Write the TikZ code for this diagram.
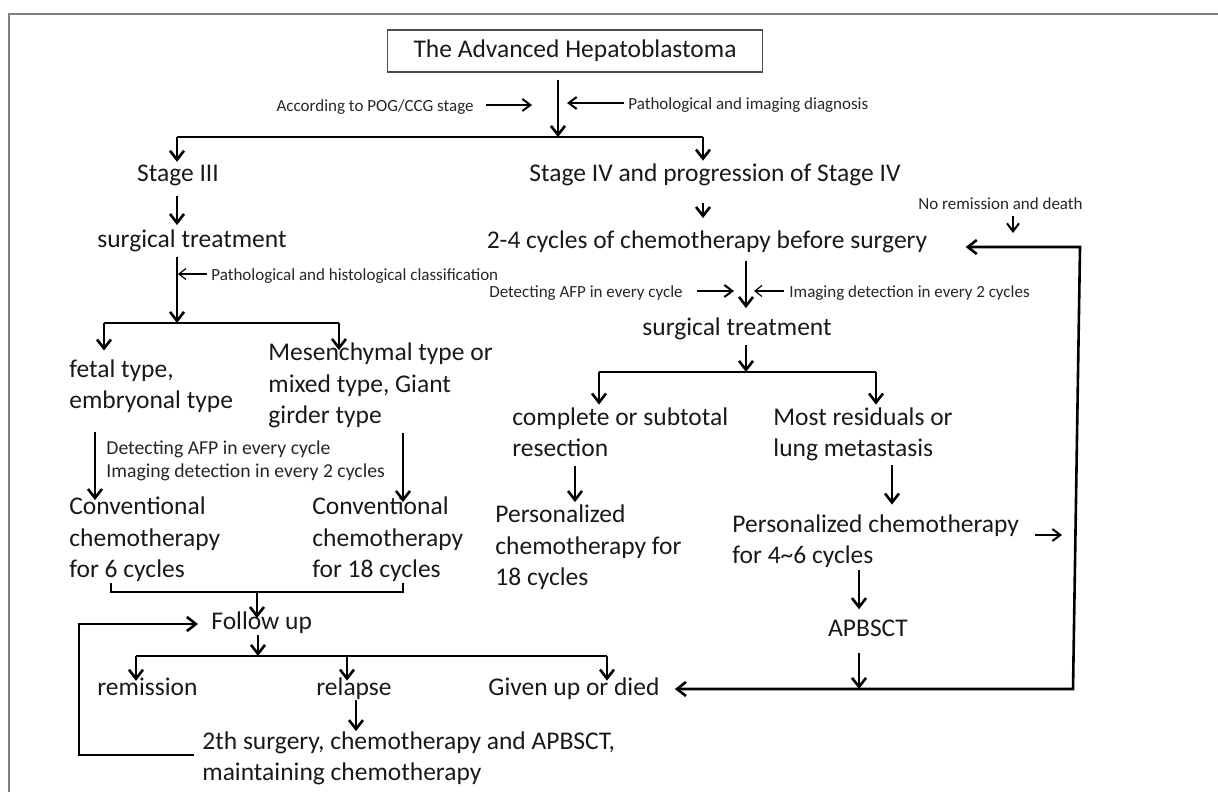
\documentclass[tikz,border=0pt]{standalone}
\usepackage{fontspec}
\setmainfont{Carlito}
\usetikzlibrary{arrows.meta}
\newcommand{\mainsize}{\fontsize{12.75pt}{15.75pt}\selectfont}
\newcommand{\notesize}{\fontsize{8.5pt}{10.5pt}\selectfont}
\newcommand{\midsize}{\fontsize{9.85pt}{11.5pt}\selectfont}
\tikzset{
  box/.style={inner sep=0pt, font=\mainsize, align=left, text=black!90},
  note/.style={inner sep=0pt, font=\notesize, text=black!85},
  arr/.style={line width=1.3pt, -{Straight Barb[length=4.5pt,width=7pt]}},
  sarr/.style={line width=1pt, -{Straight Barb[length=4pt,width=6pt]}},
  tarr/.style={line width=0.6pt, -{Straight Barb[length=3.5pt,width=5.5pt]}},
  both/.style={line width=1.3pt, {Straight Barb[length=4.5pt,width=7pt]}-{Straight Barb[length=4.5pt,width=7pt]}},
  bar/.style={line width=1.3pt},
}
\begin{document}
\begin{tikzpicture}[x=0.5pt, y=-0.5pt]
  \useasboundingbox (0,0) rectangle (1218,792);
  % frame
  \draw[black!50, line width=0.75pt] (1218,14) -- (9,14) -- (9,792);

  % nodes (multi-line ones sit on their last line)
  \node[box, draw=black!70, line width=0.75pt, minimum width=187.5pt, minimum height=21pt, align=center] (title) at (575,51) {The Advanced Hepatoblastoma};
  \node[note, anchor=mid east] (pog) at (474,107) {According to POG/CCG stage};
  \node[note, anchor=mid west] (pid) at (628,105) {Pathological and imaging diagnosis};
  \node[box, anchor=mid] (st3) at (178,177) {Stage III};
  \node[box, anchor=mid] (st4) at (715,177) {Stage IV and progression of Stage IV};
  \node[box, anchor=mid] (surgA) at (192,243) {surgical treatment};
  \node[box, anchor=mid] (chemoA) at (707,244) {2-4 cycles of chemotherapy before surgery};
  \node[note, anchor=mid west] (nr) at (918,205) {No remission and death};
  \node[note, anchor=mid west] (phc) at (211,276) {Pathological and histological classification};
  \node[box, anchor=mid west] (fetal) at (69,404) {fetal type,\\embryonal type};
  \node[box, anchor=mid west] (mesen) at (268,419) {Mesenchymal type or\\mixed type, Giant\\girder type};
  \node[note, font=\midsize, anchor=mid west, align=left] (afpA) at (106,473) {Detecting AFP in every cycle\\Imaging detection in every 2 cycles};
  \node[box, anchor=mid west] (convA) at (69,573) {Conventional\\chemotherapy\\for 6 cycles};
  \node[box, anchor=mid west] (convB) at (312,573) {Conventional\\chemotherapy\\for 18 cycles};
  \node[box, anchor=mid west] (follow) at (211,625) {Follow up};
  \node[box, anchor=mid west] (remis) at (97,691) {remission};
  \node[box, anchor=mid west] (relap) at (316,691) {relapse};
  \node[box, anchor=mid west] (given) at (488,691) {Given up or died};
  \node[box, anchor=mid west] (second) at (202,776) {2th surgery, chemotherapy and APBSCT,\\maintaining chemotherapy};
  \node[note, anchor=mid east] (afpB) at (683,293) {Detecting AFP in every cycle};
  \node[note, anchor=mid west] (imgB) at (789,293) {Imaging detection in every 2 cycles};
  \node[box, anchor=mid] (surgB) at (737,331) {surgical treatment};
  \node[box, anchor=mid west] (compl) at (512,452) {complete or subtotal\\resection};
  \node[box, anchor=mid west] (resid) at (773,452) {Most residuals or\\lung metastasis};
  \node[box, anchor=mid west] (persA) at (495,581) {Personalized\\chemotherapy for\\18 cycles};
  \node[box, anchor=mid west] (persB) at (732,559) {Personalized chemotherapy\\for 4\textasciitilde 6 cycles};
  \node[box, anchor=mid] (apb) at (868,632) {APBSCT};

  % junctions
  \coordinate (j0) at (558,137);
  \coordinate (s1L) at (177,137);
  \coordinate (s1R) at (703,137);
  \coordinate (pogT) at (532,105);
  \coordinate (pidT) at (567,103);
  \coordinate (nrT) at (1013,233);
  \coordinate (rTop) at (1080,247);
  \coordinate (rBot) at (1073,689);
  \coordinate (cB) at (746,0);
  \coordinate (afpT) at (734,291);
  \coordinate (imgT) at (754,291);
  \coordinate (s4M) at (746,372);
  \coordinate (s4L) at (599,372);
  \coordinate (s4R) at (876,372);
  \coordinate (cC) at (575,0);
  \coordinate (cD) at (892,0);
  \coordinate (cE) at (859,0);
  \coordinate (arrT) at (1062,535);
  \coordinate (s2M) at (177,323);
  \coordinate (s2L) at (104,323);
  \coordinate (s2R) at (339,323);
  \coordinate (phcT) at (178,274);
  \coordinate (cL) at (95,0);
  \coordinate (cM) at (403,0);
  \coordinate (brL) at (111,583);
  \coordinate (brR) at (403,583);
  \coordinate (brM) at (257,592);
  \coordinate (s3M) at (258,656);
  \coordinate (s3L) at (136,656);
  \coordinate (s3C) at (347,656);
  \coordinate (s3R) at (607,656);
  \coordinate (cR) at (356,0);
  \coordinate (lpB) at (79,755);
  \coordinate (lpT) at (79,624);

  % top split
  \draw[arr, shorten <=3.5pt] (title.south -| j0) -- (j0);
  \draw[bar] (s1L) -- (s1R);
  \draw[arr, shorten >=1.5pt] (s1L) -- (st3.north -| s1L);
  \draw[arr, shorten >=1.5pt] (s1R) -- (st4.north -| s1R);
  \draw[sarr, shorten <=6pt] (pog.east |- pogT) -- (pogT);
  \draw[sarr, shorten <=2pt] (pid.west |- pidT) -- (pidT);

  % stage III branch
  \draw[arr, shorten <=4.5pt, shorten >=2.3pt] (st3.south -| s1L) -- (surgA.north -| s1L);
  \draw[arr, shorten <=2pt] (surgA.south -| s2M) -- (s2M);
  \draw[tarr, shorten <=2pt] (phc.west |- phcT) -- (phcT);
  \draw[bar] (s2L) -- (s2R);
  \draw[arr, shorten >=4.3pt] (s2L) -- (fetal.north -| s2L);
  \draw[arr, shorten >=-3.7pt] (s2R) -- (mesen.north -| s2R);
  \draw[arr, shorten <=9.5pt, shorten >=-1.7pt] (fetal.south -| cL) -- (convA.north -| cL);
  \draw[arr, shorten <=2pt, shorten >=-2.7pt] (mesen.south -| cM) -- (convB.north -| cM);
  \draw[bar] (brL) -- (brL |- brM) -- (brR |- brM) -- (brR);
  \draw[arr, shorten >=-3.2pt] (brM) -- (follow.north -| brM);
  \draw[arr, shorten <=0.5pt] (follow.south -| s3M) -- (s3M);
  \draw[bar] (s3L) -- (s3R);
  \foreach \p/\q in {s3L/remis, s3C/relap, s3R/given}
    \draw[arr, shorten >=-1.5pt] (\p) -- (\q.north -| \p);
  \draw[arr] (relap.south -| cR) -- (second.north -| cR);
  \draw[arr, shorten <=4pt, shorten >=6.5pt] (second.west |- lpB) -- (lpB) -- (lpT) -- (follow.west |- lpT);

  % stage IV branch
  \draw[arr, shorten <=8pt, shorten >=6.3pt] (st4.south -| s1R) -- (chemoA.north -| s1R);
  \draw[arr, shorten <=3.5pt, shorten >=4.8pt] (chemoA.south -| cB) -- (surgB.north -| cB);
  \draw[sarr, shorten <=7pt] (afpB.east |- afpT) -- (afpT);
  \draw[tarr, shorten <=2.5pt] (imgB.west |- imgT) -- (imgT);
  \draw[arr, shorten <=2pt] (surgB.south -| s4M) -- (s4M);
  \draw[bar] (s4L) -- (s4R);
  \draw[arr, shorten >=1.3pt] (s4L) -- (compl.north -| s4L);
  \draw[arr, shorten >=1.3pt] (s4R) -- (resid.north -| s4R);
  \draw[arr, shorten <=4.5pt, shorten >=1.3pt] (compl.south -| cC) -- (persA.north -| cC);
  \draw[arr, shorten <=1.5pt, shorten >=4.8pt] (resid.south -| cD) -- (persB.north -| cD);
  \draw[arr, shorten <=1pt, shorten >=5.3pt] (persB.south -| cE) -- (apb.north -| cE);
  \draw[arr, shorten <=8pt] (apb.south -| cE) -- (rBot -| cE);
  \draw[sarr, shorten <=8pt] (persB.east |- arrT) -- (arrT);
  \draw[sarr, shorten <=3pt] (nr.south -| nrT) -- (nrT);
  \draw[both, shorten <=19pt, shorten >=7.5pt] (chemoA.east |- rTop) -- (rTop) -- (rBot) -- (given.east |- rBot);
\end{tikzpicture}
\end{document}
